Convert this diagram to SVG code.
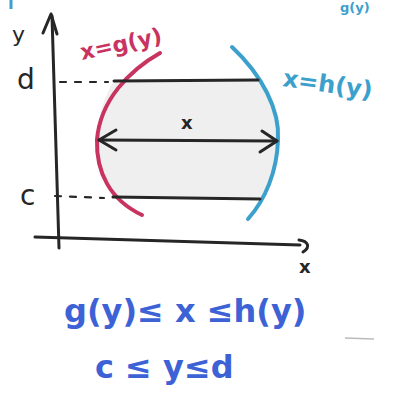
<svg xmlns="http://www.w3.org/2000/svg" width="393" height="403" viewBox="0 0 393 403">
<style>
.ink{fill:none;stroke:#262626;stroke-width:3;stroke-linecap:round;stroke-linejoin:round}
.dash{fill:none;stroke:#262626;stroke-width:2.2;stroke-dasharray:6 9;stroke-linecap:round}
.hand{font-family:"DejaVu Sans","Liberation Sans",sans-serif}
.blk{fill:#262626}
.mag{fill:#c8335f}
.cyan{fill:#3ba0cc}
.royal{fill:#3d62d6}
</style>
<rect width="393" height="403" fill="#ffffff"/>
<g id="region">
<path d="M114,81 L258,80 C270,100 277,118 278,140 C277,165 268,185 260,199 L113,197 C103,180 97,160 97,140 C98,115 104,97 114,81 Z" fill="#ececec" opacity="0.85"/>
</g>
<g id="axes">
<path class="ink" d="M52,16 L59,248"/>
<path class="ink" d="M43,33 L51,14 L57,34"/>
<path class="ink" d="M35,237 L300,245"/>
<path class="ink" d="M299,240 C308,241 311,247 303,252"/>
<text class="hand blk" x="12" y="42" font-size="22">y</text>
<text class="hand blk" x="299" y="273" font-size="18" font-weight="bold">x</text>
<text class="hand blk" x="17" y="89" font-size="28">d</text>
<text class="hand blk" x="20" y="205" font-size="28">c</text>
</g>
<g id="curve-g">
<path d="M160,53 C130,70 100,100 97,140 C96,172 110,200 142,215" fill="none" stroke="#c8335f" stroke-width="4" stroke-linecap="round"/>
<text class="hand mag" x="82" y="60" font-size="22" font-weight="bold" transform="rotate(-12 82 60)">x=g(y)</text>
</g>
<g id="curve-h">
<path d="M232,47 C262,75 280,110 278,140 C277,172 265,200 248,219" fill="none" stroke="#3ba0cc" stroke-width="4" stroke-linecap="round"/>
<text class="hand cyan" x="282" y="86" font-size="24" font-weight="bold" transform="rotate(8 282 86)">x=h(y)</text>
</g>
<g id="connectors">
<path class="dash" d="M60,82 L108,82"/>
<path class="ink" d="M114,81 L258,80"/>
<path class="dash" d="M55,196 L104,198"/>
<path class="ink" d="M113,197 L260,199"/>
<path class="ink" d="M99,140 L277,141"/>
<path class="ink" d="M116,130 L99,140 L116,150"/>
<path class="ink" d="M262,131 L277,141 L260,152"/>
<text class="hand blk" x="181" y="129" font-size="18" font-weight="bold">x</text>
</g>
<g id="formula">
<text class="hand royal" x="64" y="322" font-size="32" font-weight="bold">g(y)≤ x ≤h(y)</text>
<text class="hand royal" x="95" y="378" font-size="32" font-weight="bold">c ≤ y≤d</text>
</g>
<g id="edge-fragments">
<text class="hand cyan" x="340" y="12" font-size="13" font-weight="bold">g(y)</text>
<path d="M11,0 L11,9" stroke="#3ba0cc" stroke-width="3"/>
<path d="M345,338 L374,339" stroke="#bbbbbb" stroke-width="1.5"/>
</g>
</svg>
